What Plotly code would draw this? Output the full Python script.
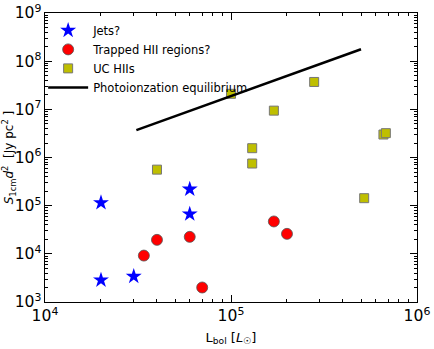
import plotly.graph_objs as go

# values
jets_l = [2.0e4, 2.0e4, 3.0e4, 6.0e4, 6.0e4]
jets_s = [1.15e5, 2.85e3, 3.4e3, 2.2e5, 6.7e4]

trapped_l = [3.4e4, 4.0e4, 6.0e4, 7.0e4, 1.7e5, 2.0e5]
trapped_s = [9.2e3, 1.95e4, 2.25e4, 2.0e3, 4.7e4, 2.6e4]

uchii_l = [4.0e4, 1.0e5, 1.3e5, 1.3e5, 1.7e5, 2.8e5, 6.6e5, 6.8e5, 5.2e5]
uchii_s = [5.6e5, 2.1e7, 1.56e6, 7.5e5, 9.4e6, 3.7e7, 3.0e6, 3.2e6, 1.43e5]

photo_l = [3.1e4, 5.0e5]
photo_s = [3.7e6, 1.77e8]


def make_fig():
    fig = go.Figure()
    fig.add_trace(go.Scatter(x=jets_l, y=jets_s, mode='markers', name='Jets?',
                             marker=dict(symbol='star', size=12, color='#0000ff',
                                         line=dict(width=0))))
    fig.add_trace(go.Scatter(x=trapped_l, y=trapped_s, mode='markers',
                             name='Trapped HII regions?',
                             marker=dict(symbol='circle', size=11, color='#ff0000',
                                         line=dict(width=0.8, color='#555555'))))
    fig.add_trace(go.Scatter(x=uchii_l, y=uchii_s, mode='markers', name='UC HIIs',
                             marker=dict(symbol='square', size=9, color='#bfbf00',
                                         line=dict(width=1, color='#777777'))))
    fig.add_trace(go.Scatter(x=photo_l, y=photo_s, mode='lines',
                             name='Photoionzation equilibrium',
                             line=dict(color='black', width=2.5)))

    axis = dict(type='log', exponentformat='power', dtick=1, ticks='inside',
                ticklen=7, tickwidth=1, tickcolor='black', mirror='ticks',
                showline=True, linecolor='black', linewidth=1, showgrid=False,
                zeroline=False, automargin=False,
                tickfont=dict(size=12.5, color='black'),
                minor=dict(ticks='inside', ticklen=3, tickcolor='black',
                           showgrid=False))
    fig.update_xaxes(axis, range=[4, 6],
                     title=dict(text='L<sub>bol</sub> [<i>L</i><sub>☉</sub>]',
                                font=dict(size=13), standoff=8))
    fig.update_yaxes(axis, range=[3, 9],
                     title=dict(text='<i>S</i><sub>1cm</sub><i>d</i><sup>2</sup>  [Jy pc<sup>2</sup> ]',
                                font=dict(size=12), standoff=4))
    fig.update_layout(width=434, height=349, template='simple_white',
                      margin=dict(l=45, r=17, t=13, b=47),
                      font=dict(family='DejaVu Sans', color='black'),
                      plot_bgcolor='white', paper_bgcolor='white',
                      legend=dict(x=-0.005, y=0.99, xanchor='left', yanchor='top',
                                  bgcolor='rgba(0,0,0,0)', font=dict(size=11.5),
                                  tracegroupgap=0, itemwidth=40))
    return fig


fig = make_fig()
fig.write_html('out.html', config={'displayModeBar': False},
               post_script="document.body.style.margin = '0';")
